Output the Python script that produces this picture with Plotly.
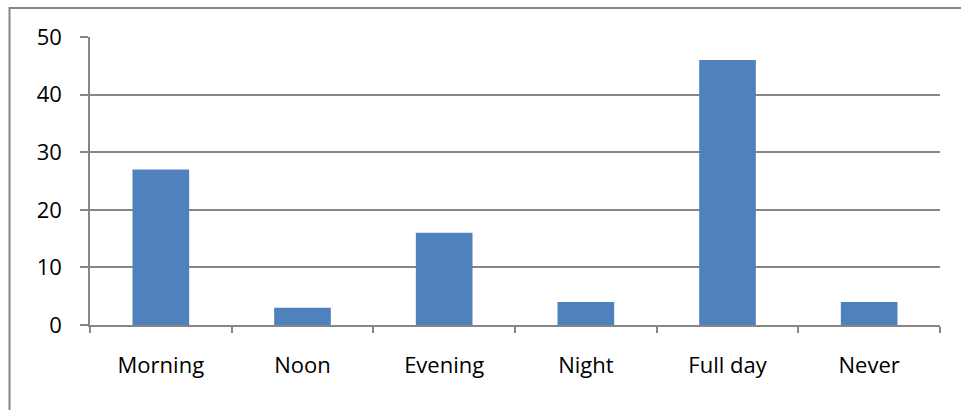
import plotly.graph_objects as go

# Time of day categories and response counts
categories = ["Morning", "Noon", "Evening", "Night", "Full day", "Never"]
counts = [27, 3, 16, 4, 46, 4]
y_ticks = [0, 10, 20, 30, 40, 50]

W, H = 961, 410
L, R, T, B = 90, 21, 37, 85
plot_w = W - L - R
plot_h = H - T - B

axis_gray = "#868686"
bar_blue = "#4F81BD"
font = dict(family="Open Sans, Liberation Sans, sans-serif", size=22, color="#000000")

fig = go.Figure(
    go.Bar(
        x=categories,
        y=counts,
        marker=dict(color=bar_blue, line=dict(width=0)),
        hoverinfo="x+y",
    )
)

# Outer chart frame (runs off the right and bottom edges of the page)
fig.add_shape(
    type="rect",
    xref="paper", yref="paper",
    x0=(9.5 - L) / plot_w,
    x1=(W + 20 - L) / plot_w,
    y0=(H - B - (H + 20)) / plot_h,
    y1=(H - B - 8) / plot_h,
    line=dict(color=axis_gray, width=2),
    fillcolor="rgba(0,0,0,0)",
    layer="below",
)

fig.update_layout(
    width=W,
    height=H,
    margin=dict(l=L, r=R, t=T, b=B, pad=0),
    paper_bgcolor="white",
    plot_bgcolor="white",
    bargap=0.6,
    showlegend=False,
    font=font,
    xaxis=dict(
        showline=True,
        linecolor=axis_gray,
        linewidth=1.5,
        ticks="outside",
        tickson="boundaries",
        ticklen=6,
        tickwidth=1.5,
        tickcolor=axis_gray,
        showgrid=False,
        tickfont=font,
        ticklabelstandoff=20,
    ),
    yaxis=dict(
        range=[0, 50],
        tickvals=y_ticks,
        showline=True,
        linecolor=axis_gray,
        linewidth=1.5,
        ticks="outside",
        ticklen=8,
        tickwidth=1.5,
        tickcolor=axis_gray,
        showgrid=True,
        gridcolor=axis_gray,
        gridwidth=1.5,
        zeroline=False,
        tickfont=font,
        ticklabelstandoff=14,
    ),
)

fig.write_html("out.html")
